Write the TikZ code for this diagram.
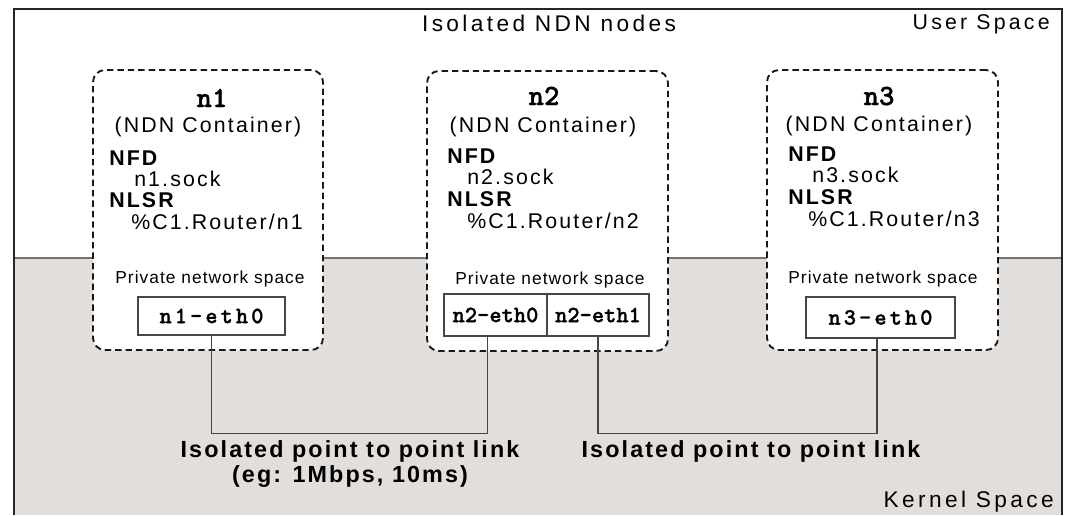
\documentclass[tikz,border=0pt]{standalone}
\usepackage{fontspec}
\setmainfont{Liberation Sans}
\newfontfamily\lblfont[LetterSpace=15]{Liberation Sans}
\newfontfamily\ctrfont[LetterSpace=10]{Liberation Sans}
\newfontfamily\pnsfont[LetterSpace=6]{Liberation Sans}
\newfontfamily\linkfont[LetterSpace=9]{Liberation Sans}
\newfontfamily\courb[Extension=.otf,FakeBold=1.2]{lmmonolt10-bold}
\newfontfamily\courbsp[Extension=.otf,FakeBold=1.2,LetterSpace=13]{lmmonolt10-bold}
\definecolor{kernelgray}{RGB}{226,222,219}
\definecolor{linegray}{RGB}{70,70,70}
\tikzset{
  frameline/.style={line width=1.1pt, draw=black!85},
  cont/.style={draw=black!90, fill=white, line width=1.4pt, dash pattern=on 4.8pt off 3pt, rounded corners=9pt, inner sep=0pt},
  ethbox/.style={draw=linegray, fill=white, line width=0.8pt, inner sep=0pt, font=\courb\fontsize{17.5pt}{20pt}\selectfont},
  ethboxsp/.style={ethbox, font=\courbsp\fontsize{17.5pt}{20pt}\selectfont},
  link/.style={draw=linegray, line width=1pt},
  lbl/.style={font=\lblfont\fontsize{17pt}{19pt}\selectfont, inner sep=0pt, anchor=base},
  ctitle/.style={font=\courb\fontsize{22pt}{24pt}\selectfont, inner sep=0pt, anchor=base},
  csub/.style={font=\ctrfont\fontsize{16pt}{18pt}\selectfont, inner sep=0pt, anchor=base},
  cbold/.style={font=\ctrfont\bfseries\fontsize{16pt}{18pt}\selectfont, inner sep=0pt, anchor=base west},
  cval/.style={font=\ctrfont\fontsize{16pt}{18pt}\selectfont, inner sep=0pt, anchor=base west},
  pns/.style={font=\pnsfont\fontsize{13pt}{15pt}\selectfont, inner sep=0pt, anchor=base},
  linklbl/.style={font=\linkfont\bfseries\fontsize{17.5pt}{20pt}\selectfont, inner sep=0pt, anchor=base},
}
\begin{document}
\begin{tikzpicture}[x=0.75pt,y=-0.75pt]
\useasboundingbox (0,0) rectangle (1070,515);
% spaces
\fill[kernelgray] (14,258) rectangle (1062,515);
\draw[draw=black!55, line width=1pt] (14,258) -- (1062,258);
\draw[frameline] (14,515) -- (14,9) -- (1062,9) -- (1062,515);
\node[lbl] (title) at (549,31) {Isolated NDN nodes};
\node[lbl, font=\lblfont\fontsize{16pt}{18pt}\selectfont, anchor=base east] (user) at (1050,29) {User Space};
\node[lbl, anchor=base east] (kernel) at (1054,507) {Kernel Space};
% containers
\node[cont, minimum width=172.5pt, minimum height=210pt] (c1) at (208,210) {};
\node[cont, minimum width=180.75pt, minimum height=210pt] (c2) at (547.5,211) {};
\node[cont, minimum width=173.25pt, minimum height=210pt] (c3) at (882.5,210) {};
% n1 text
\node[ctitle] (t1) at (212,107) {n1};
\node[csub] (s1) at (208,132) {(NDN Container)};
\node[cbold] (f1) at (109,165) {NFD};
\node[cval] (k1) at (134,186) {n1.sock};
\node[cbold] (r1) at (109,207) {NLSR};
\node[cval] (p1) at (131,229) {\%C1.Router/n1};
\node[pns] (ps1) at (210,283) {Private network space};
% n2 text
\node[ctitle] (t2) at (544,105) {n2};
\node[csub] (s2) at (543,132) {(NDN Container)};
\node[cbold] (f2) at (447,163) {NFD};
\node[cval] (k2) at (467,184) {n2.sock};
\node[cbold] (r2) at (447,206) {NLSR};
\node[cval] (p2) at (467,228) {\%C1.Router/n2};
\node[pns] (ps2) at (550,284) {Private network space};
% n3 text
\node[ctitle] (t3) at (879,105) {n3};
\node[csub] (s3) at (879,131) {(NDN Container)};
\node[cbold] (f3) at (788,161) {NFD};
\node[cval] (k3) at (812,182) {n3.sock};
\node[cbold] (r3) at (788,204) {NLSR};
\node[cval] (p3) at (808,226) {\%C1.Router/n3};
\node[pns] (ps3) at (883,283) {Private network space};
% interfaces
\node[ethboxsp, minimum width=110.25pt, minimum height=28.5pt] (e1) at (211.5,316) {n1-eth0};
\node[ethbox, minimum width=77.25pt, minimum height=31.5pt] (e2a) at (495.5,315) {n2-eth0};
\node[ethbox, minimum width=76.5pt, minimum height=31.5pt] (e2b) at (598,315) {n2-eth1};
\node[ethboxsp, minimum width=111.75pt, minimum height=30.75pt] (e3) at (880.5,317.5) {n3-eth0};
% links
\draw[link] (e1.south) -- ++(0,98) -| ([xshift=-5.8pt]e2a.south);
\draw[link] (e2b.south) -- ++(0,97) -| ([xshift=-2.6pt]e3.south);
\node[linklbl] (l1) at (350,457) {Isolated point to point link};
\node[linklbl] (l1b) at (350,482) {(eg: 1Mbps, 10ms)};
\node[linklbl] (l2) at (751,457) {Isolated point to point link};
\end{tikzpicture}
\end{document}
